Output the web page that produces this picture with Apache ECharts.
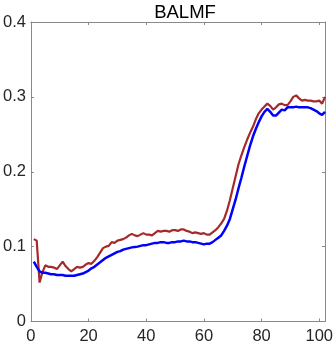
<!DOCTYPE html>
<html><head><meta charset="utf-8">
<script src="https://cdn.jsdelivr.net/npm/echarts@6/dist/echarts.min.js"></script>
<style>html,body{margin:0;padding:0;background:#fff}#c{width:336px;height:347px}</style>
</head><body><div id="c"></div>
<script>
const title = "BALMF";
const xTicks = [0, 20, 40, 60, 80, 100];
const yTicks = [0, 0.1, 0.2, 0.3, 0.4];
const redVals = [0.110,0.108,0.052,0.066,0.075,0.073,0.073,0.072,0.070,0.075,
0.080,0.074,0.070,0.067,0.070,0.073,0.072,0.073,0.076,0.078,
0.077,0.081,0.086,0.092,0.098,0.100,0.101,0.106,0.105,0.108,
0.109,0.110,0.112,0.115,0.117,0.115,0.114,0.116,0.118,0.116,
0.116,0.115,0.118,0.121,0.120,0.121,0.121,0.120,0.122,0.122,
0.121,0.123,0.123,0.121,0.120,0.118,0.119,0.118,0.117,0.118,
0.116,0.116,0.119,0.122,0.126,0.131,0.137,0.148,0.162,0.178,
0.194,0.210,0.222,0.233,0.243,0.252,0.260,0.270,0.278,0.283,
0.287,0.291,0.288,0.283,0.286,0.290,0.291,0.289,0.289,0.294,
0.300,0.302,0.298,0.295,0.296,0.295,0.295,0.294,0.294,0.295,
0.291,0.300];
const blueVals = [0.080,0.073,0.067,0.065,0.065,0.064,0.063,0.063,0.062,0.062,
0.062,0.061,0.061,0.061,0.061,0.062,0.063,0.064,0.066,0.068,
0.071,0.073,0.076,0.079,0.082,0.085,0.087,0.089,0.091,0.093,
0.094,0.096,0.097,0.098,0.099,0.0995,0.100,0.101,0.102,0.102,
0.103,0.104,0.105,0.105,0.106,0.106,0.105,0.105,0.106,0.106,
0.107,0.107,0.108,0.107,0.107,0.106,0.106,0.105,0.104,0.103,
0.104,0.104,0.106,0.109,0.112,0.115,0.121,0.128,0.137,0.150,
0.163,0.178,0.192,0.207,0.221,0.235,0.247,0.257,0.266,0.274,
0.280,0.284,0.280,0.275,0.275,0.279,0.283,0.282,0.286,0.286,
0.286,0.287,0.286,0.286,0.286,0.286,0.285,0.283,0.281,0.278,
0.276,0.280];

const toPairs = v => v.map((y, i) => [i + 1, y]);
const font = "'Liberation Sans', Arial, sans-serif";
const axisCol = '#8a8a8a';
const txtCol = '#262626';
const xBase = {
  type: 'value', min: 0, max: 102, interval: 20,
  axisLine: {show: true, onZero: false, lineStyle: {color: axisCol, width: 1}},
  axisTick: {show: true, inside: true, length: 3, lineStyle: {color: axisCol}},
  splitLine: {show: false}
};
const yBase = {
  type: 'value', min: 0, max: 0.4, interval: 0.1,
  axisLine: {show: true, onZero: false, lineStyle: {color: axisCol, width: 1}},
  axisTick: {show: true, inside: true, length: 3, lineStyle: {color: axisCol}},
  splitLine: {show: false}
};
const chart = echarts.init(document.getElementById('c'), null, {renderer: 'canvas'});
chart.setOption({
  animation: false,
  backgroundColor: '#fff',
  title: {text: title, left: 180, top: -2, textAlign: 'center',
    textStyle: {fontFamily: font, fontSize: 18.5, fontWeight: 'normal', color: '#000'}},
  grid: {left: 30.5, right: 9.5, top: 22, bottom: 25.5},
  xAxis: [
    Object.assign({}, xBase, {position: 'bottom',
      axisLabel: {show: true, showMaxLabel: false, margin: 6, fontFamily: font, fontSize: 16.5, color: txtCol,
        formatter: v => xTicks.includes(v) ? String(v) : ''}}),
    Object.assign({}, xBase, {position: 'top', axisLabel: {show: false}})
  ],
  yAxis: [
    Object.assign({}, yBase, {position: 'left',
      axisLabel: {show: true, margin: 5, fontFamily: font, fontSize: 16.5, color: txtCol,
        formatter: v => { const t = yTicks.find(a => Math.abs(a - v) < 1e-9); return t === undefined ? '' : (t === 0 ? '0' : t.toFixed(1)); }}}),
    Object.assign({}, yBase, {position: 'right', axisLabel: {show: false}})
  ],
  series: [
    {type: 'line', name: 'red', data: toPairs(redVals), showSymbol: false, smooth: false,
      lineStyle: {color: '#A52A2A', width: 2.2}, z: 3},
    {type: 'line', name: 'blue', data: toPairs(blueVals), showSymbol: false, smooth: false,
      lineStyle: {color: '#0000FF', width: 2.5}, z: 4}
  ]
});
</script></body></html>
